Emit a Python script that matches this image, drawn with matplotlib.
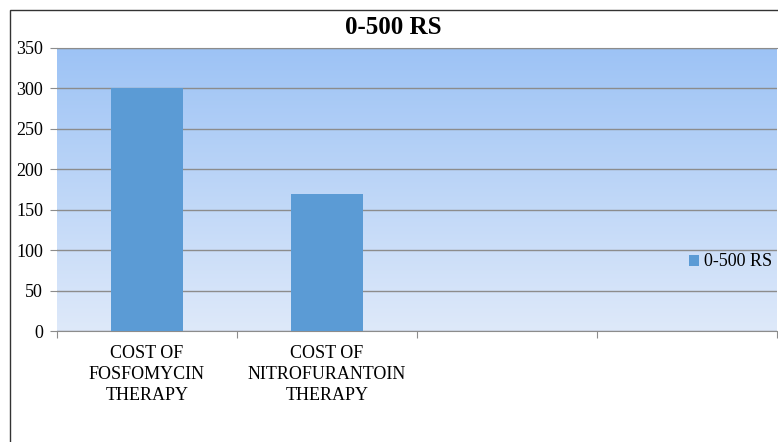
import numpy as np
import matplotlib.pyplot as plt
from matplotlib.patches import Rectangle

categories = ['COST OF\nFOSFOMYCIN\nTHERAPY', 'COST OF\nNITROFURANTOIN\nTHERAPY', '', '']
values = [300, 170, 0, 0]
series_name = '0-500 RS'
y_ticks = [0, 50, 100, 150, 200, 250, 300, 350]

plt.rcParams['font.family'] = ['Liberation Serif', 'DejaVu Serif']

fig = plt.figure(figsize=(7.78, 4.42), dpi=100)

# chart frame (cut off at right and bottom like the screenshot)
fig.patches.append(Rectangle((10 / 778, -0.1), 1.2, 1 - 10 / 442 + 0.1,
                             transform=fig.transFigure, fill=False,
                             edgecolor='#333333', linewidth=1.0))

ax = fig.add_axes([57 / 778, 1 - 331 / 442, 720 / 778, 283 / 442])

# gradient plot area background
top = np.array([157, 195, 245]) / 255
bottom = np.array([222, 233, 250]) / 255
t = np.linspace(0, 1, 256)[:, None]
grad = (top * (1 - t) + bottom * t).reshape(256, 1, 3)
ax.imshow(grad, extent=[0, 1, 0, 1], transform=ax.transAxes, aspect='auto', zorder=0)

x = np.arange(len(categories))
bars = ax.bar(x[:2], values[:2], width=0.4, color='#5B9BD5', zorder=3, label=series_name)

ax.set_xlim(-0.5, len(categories) - 0.5)
ax.set_ylim(0, 350)
ax.set_yticks(y_ticks)
ax.yaxis.grid(True, color='#8c8c8c', linewidth=1, zorder=1)
ax.set_axisbelow(True)

for s in ['left', 'right']:
    ax.spines[s].set_visible(False)
ax.spines['top'].set_color('#8c8c8c')
ax.spines['bottom'].set_color('#8c8c8c')

ax.tick_params(axis='y', length=5, color='#8c8c8c', labelsize=13, pad=5)
ax.set_xticks(np.arange(-0.5, len(categories), 1))
ax.set_xticklabels([])
ax.tick_params(axis='x', length=5, color='#8c8c8c', direction='out')
ax.set_xticks(x, minor=True)
ax.set_xticklabels(categories, minor=True, fontsize=13, linespacing=1.3)
ax.tick_params(axis='x', which='minor', length=0, pad=10)

ax.legend(loc='center right', bbox_to_anchor=(1.016, 0.244), frameon=False,
          fontsize=13, handlelength=0.55, handleheight=0.55, handletextpad=0.3)

fig.text(393 / 778, 1 - 28 / 442, '0-500 RS', ha='center', va='center',
         fontsize=18, fontweight='bold')

plt.savefig('out.png', dpi=100)
